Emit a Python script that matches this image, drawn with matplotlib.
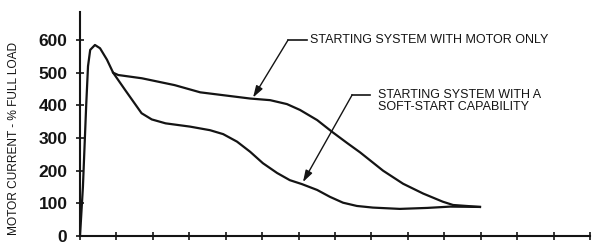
import matplotlib
matplotlib.use("Agg")
import matplotlib.pyplot as plt

# motor-only start (x in tick intervals, y in % full load)
motor_x = [0, 0.08, 0.17, 0.22, 0.28, 0.41, 0.55, 0.74, 0.91, 1.05, 1.7, 2.6, 3.3,
           4.67, 5.22, 5.68, 6.04, 6.51, 6.92, 7.33, 7.69, 8.32, 8.87, 9.42, 9.96,
           10.24, 10.98]
motor_y = [0, 150, 400, 520, 570, 585, 575, 540, 500, 493, 483, 462, 440,
           421, 416, 404, 386, 355, 319, 285, 256, 200, 160, 130, 105,
           95, 89]

# soft-start branch, leaves the motor-only curve after the peak
soft_x = [0.91, 1.24, 1.69, 1.97, 2.35, 3.02, 3.57, 3.93, 4.31, 4.67, 5.02, 5.41,
          5.76, 6.09, 6.51, 6.86, 7.22, 7.60, 8.04, 8.78, 9.53, 10.16, 10.98]
soft_y = [500, 447, 376, 357, 345, 335, 324, 312, 289, 258, 223, 193,
          171, 159, 141, 120, 102, 92, 87, 83, 86, 90, 89]

y_ticks = [0, 100, 200, 300, 400, 500, 600]
x_ticks = list(range(0, 15))

plt.rcParams["font.family"] = ["Liberation Sans", "DejaVu Sans"]
ink = "#141414"

fig = plt.figure(figsize=(6.1, 2.44), dpi=100)
ax = fig.add_axes([80 / 610, 8 / 244, 510 / 610, 224 / 244])

ax.plot(motor_x, motor_y, color=ink, lw=1.6, solid_joinstyle="round")
ax.plot(soft_x, soft_y, color=ink, lw=1.6, solid_joinstyle="round")

ax.set_xlim(0, 14)
ax.set_ylim(0, 686)
ax.set_xticks(x_ticks)
ax.set_xticklabels([])
ax.set_yticks(y_ticks)
ax.set_yticklabels([str(v) for v in y_ticks], fontsize=12.5, fontweight="bold", color=ink)
ax.tick_params(direction="inout", length=6, width=1.2, color=ink, pad=6)
for side in ("top", "right"):
    ax.spines[side].set_visible(False)
for side in ("left", "bottom"):
    ax.spines[side].set_linewidth(1.5)
    ax.spines[side].set_color(ink)

ax.set_ylabel("MOTOR CURRENT - % FULL LOAD", fontsize=8.6, color=ink)
ax.yaxis.set_label_coords(-0.118, 300 / 686)

arrow = dict(arrowstyle="-|>,head_length=0.7,head_width=0.22", color=ink, lw=1.0,
             shrinkA=0, shrinkB=0, mutation_scale=10)

# leader for motor-only
ax.plot([5.71, 6.23], [600, 600], color=ink, lw=1.2)
ax.annotate("", xy=(4.75, 424), xytext=(5.71, 600), arrowprops=arrow)
ax.text(6.31, 600, "STARTING SYSTEM WITH MOTOR ONLY", fontsize=9, color=ink,
        va="center", ha="left")

# leader for soft-start
ax.plot([7.47, 7.96], [432, 432], color=ink, lw=1.2)
ax.annotate("", xy=(6.12, 165), xytext=(7.47, 432), arrowprops=arrow)
ax.text(8.18, 414, "STARTING SYSTEM WITH A\nSOFT-START CAPABILITY", fontsize=9,
        color=ink, va="center", ha="left", linespacing=0.95)

fig.savefig("out.png", dpi=100)
